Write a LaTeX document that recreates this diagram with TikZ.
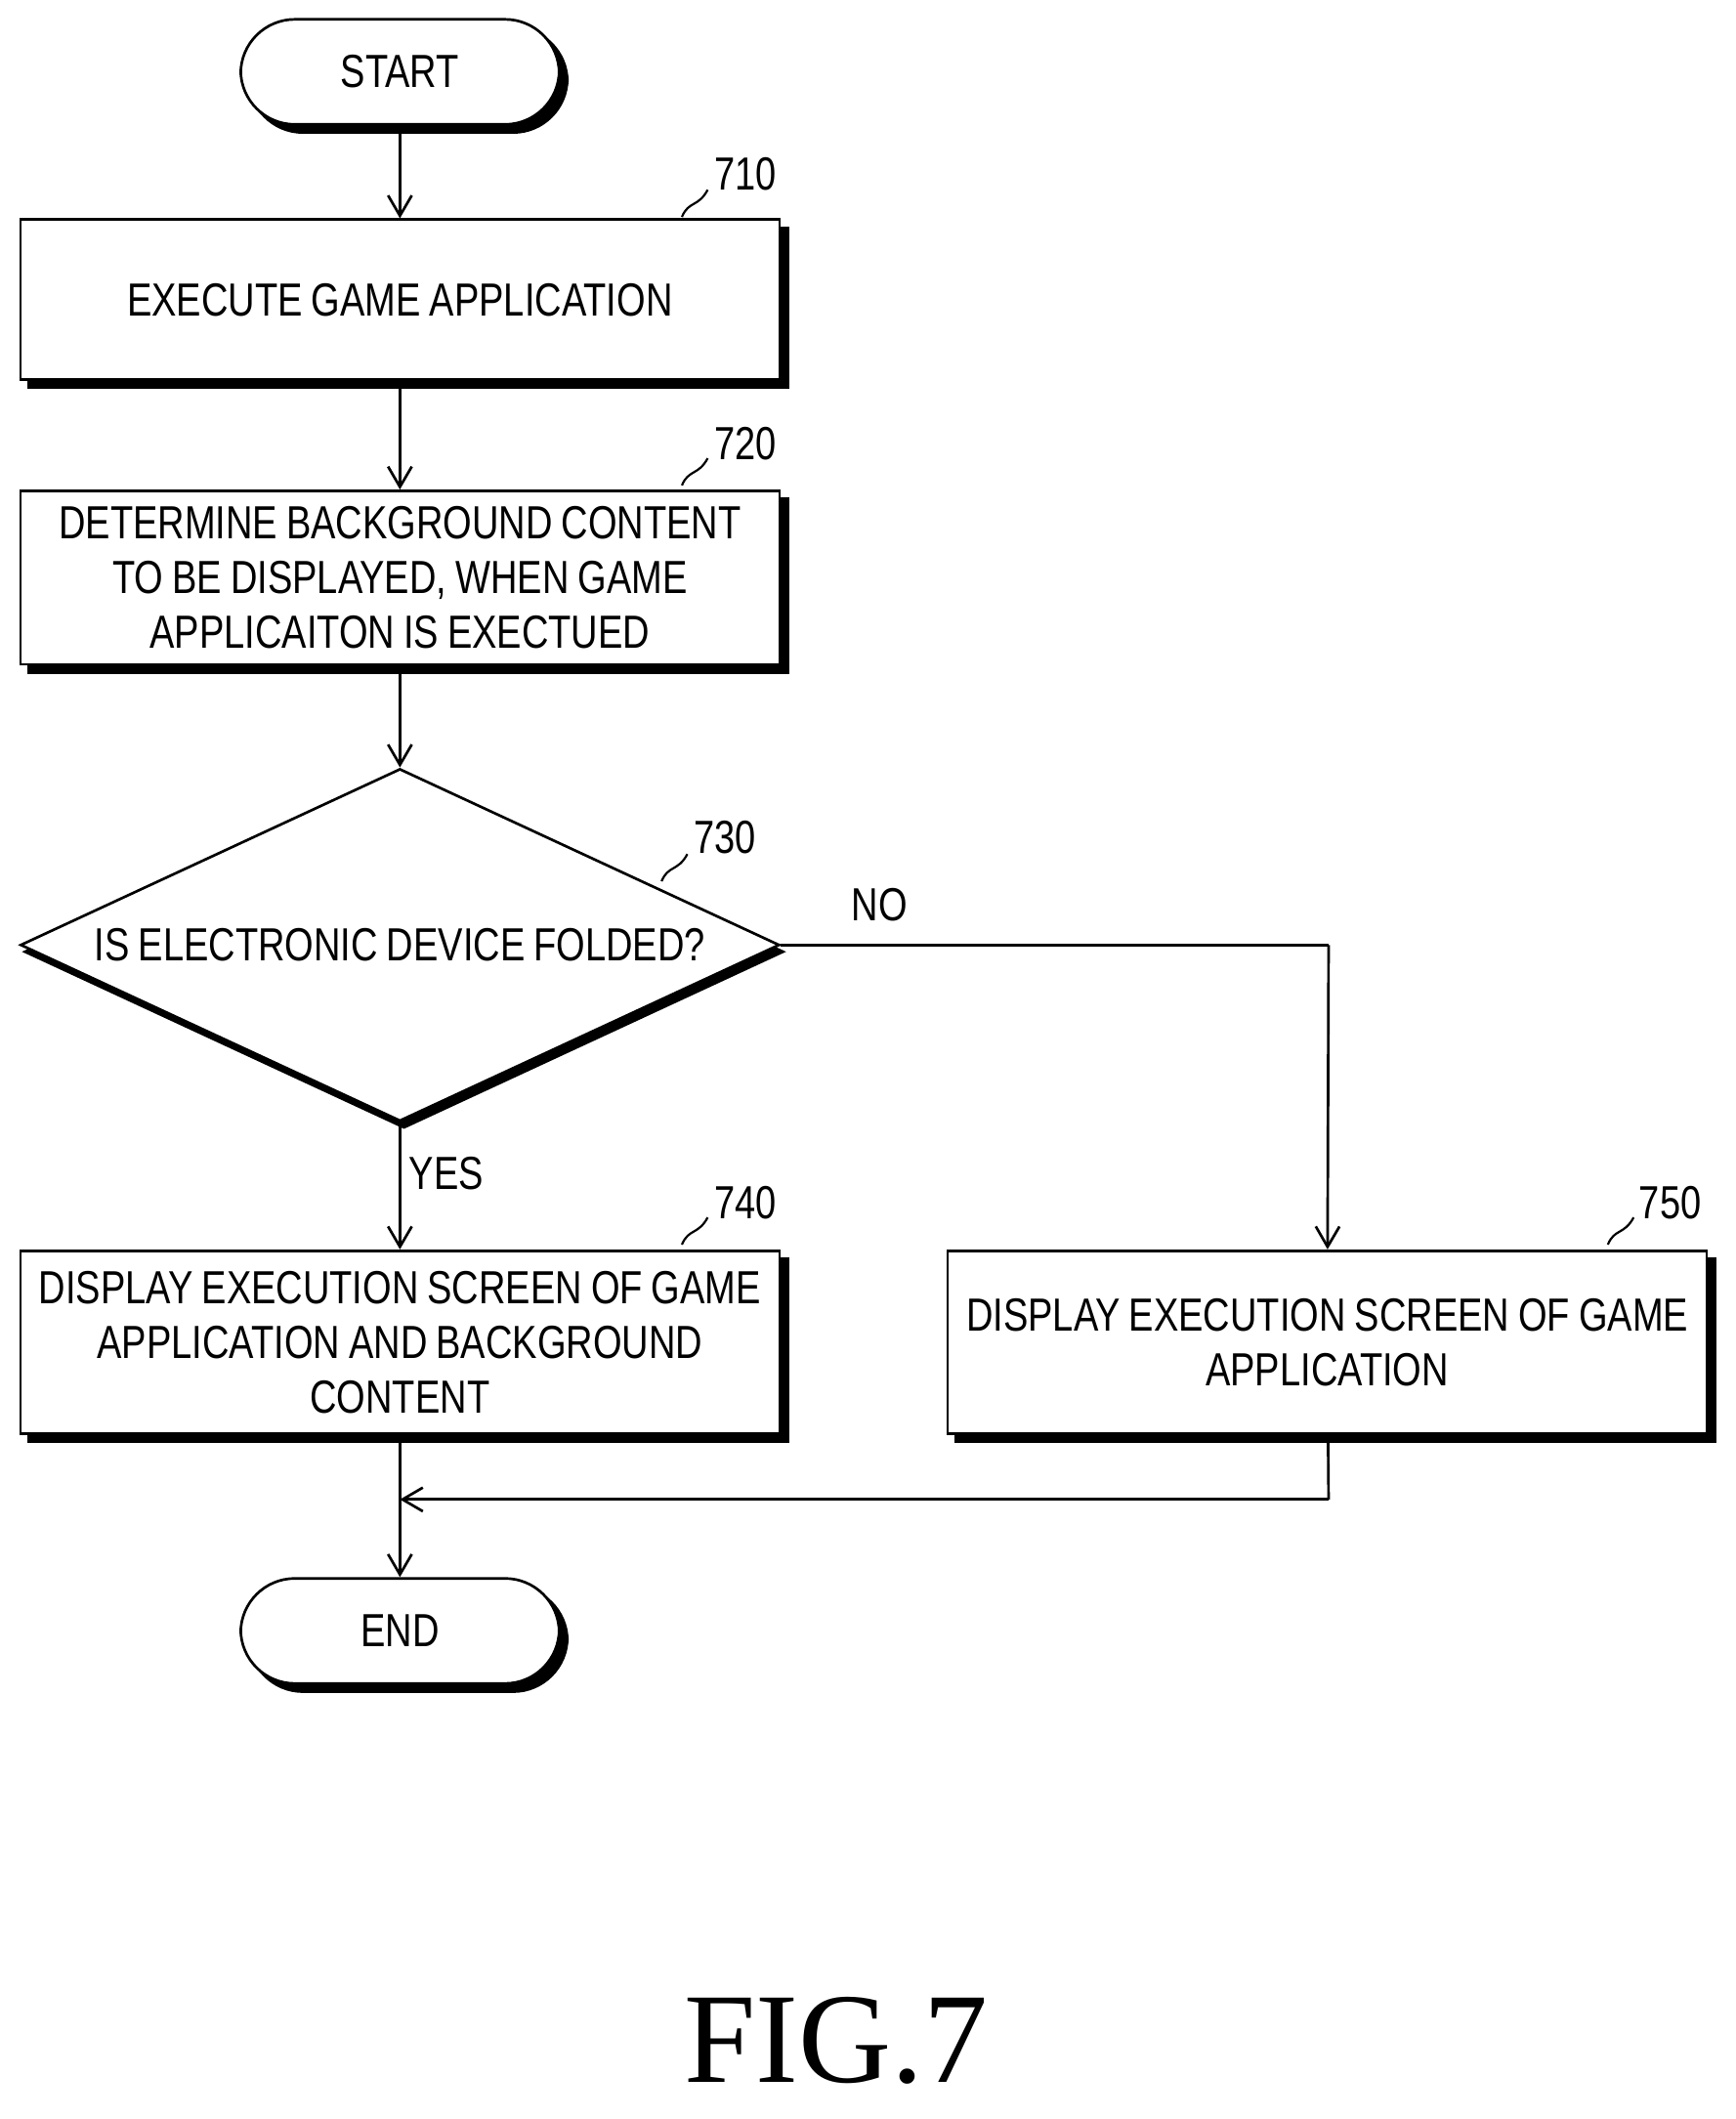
\documentclass[tikz,border=0pt]{standalone}
\usepackage{fontspec}
\setmainfont{Liberation Serif}
\setsansfont{Liberation Sans}[FakeStretch=0.8,WordSpace=0.85]
\usetikzlibrary{shapes.geometric,shadows,arrows.meta}
\begin{document}
\begin{tikzpicture}[x=0.02cm,y=-0.02cm,
  sh/.style={copy shadow={shadow xshift=0.12cm,shadow yshift=-0.12cm,fill=black,draw=black}},
  f/.style={font=\sffamily\fontsize{19.5}{23}\selectfont},
  box/.style={draw,line width=1.1pt,fill=white,sh,align=center,f,minimum width=11.2cm,inner sep=2pt},
  term/.style={draw,line width=1.1pt,fill=white,sh,rounded corners=0.8cm,minimum width=4.7cm,minimum height=1.55cm,f},
  lab/.style={f},
  arr/.style={line width=1.1pt,-{Straight Barb[length=0.3cm,width=0.35cm]}},
  ln/.style={line width=1.1pt},
  sq/.style={line width=0.9pt}]
\useasboundingbox (0,0) rectangle (1280,1563);
\node[term] (start) at (295,53) {START};
\node[box,minimum height=2.36cm] (b710) at (295,221) {EXECUTE GAME APPLICATION};
\node[box,minimum height=2.56cm] (b720) at (295,426) {DETERMINE BACKGROUND CONTENT\\TO BE DISPLAYED, WHEN GAME\\APPLICAITON IS EXECTUED};
\node[draw,diamond,aspect=2.15,line width=1.1pt,fill=white,copy shadow={shadow xshift=0.06cm,shadow yshift=-0.1cm,fill=black,draw=black},minimum width=11.2cm,minimum height=5.2cm,inner sep=0pt,f] (d730) at (295,697) {IS ELECTRONIC DEVICE FOLDED?};
\node[box,minimum height=2.7cm] (b740) at (295,990) {DISPLAY EXECUTION SCREEN OF GAME\\APPLICATION AND BACKGROUND\\CONTENT};
\node[box,minimum height=2.7cm] (b750) at (979,990) {DISPLAY EXECUTION SCREEN OF GAME\\APPLICATION};
\node[term] (end) at (295,1203) {END};
\coordinate (c1) at (980,697);
\coordinate (c2) at (980,1106);
\coordinate (c3) at (295,1106);
\draw[arr] (start) -- (b710);
\draw[arr] (b710) -- (b720);
\draw[arr] (b720) -- (d730);
\draw[arr] (d730) -- node[lab,right,pos=0.4] {YES} (b740);
\draw[ln] (d730.east) -- (c1) node[lab,pos=0.18,above=6pt] {NO};
\draw[arr] (c1) -- (b750);
\draw[ln] (b750) -- (c2);
\draw[arr] (c2) -- (c3);
\draw[arr] (b740) -- (end);
\node[lab] (l710) at (550,128) {710};
\node[lab] (l720) at (550,327) {720};
\node[lab] (l730) at (535,618) {730};
\node[lab] (l740) at (550,887) {740};
\node[lab] (l750) at (1232,887) {750};
\draw[sq] (503,160) .. controls (508,148) and (515,153) .. (522,140);
\draw[sq] (503,358) .. controls (508,346) and (515,351) .. (522,338);
\draw[sq] (488,650) .. controls (493,638) and (500,643) .. (507,630);
\draw[sq] (503,918) .. controls (508,906) and (515,911) .. (522,898);
\draw[sq] (1186,918) .. controls (1191,906) and (1198,911) .. (1205,898);
\node[font=\rmfamily\fontsize{54}{58}\selectfont] (fig) at (617,1505) {FIG.7};
\end{tikzpicture}
\end{document}
